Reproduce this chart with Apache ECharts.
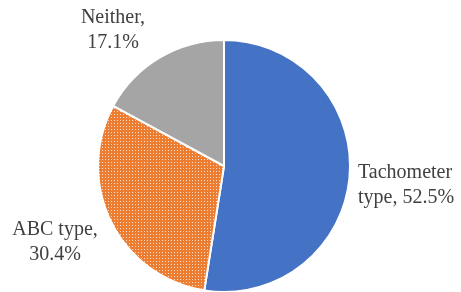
<!DOCTYPE html>
<html>
<head>
<meta charset="utf-8">
<script src="https://cdn.jsdelivr.net/npm/echarts@6/dist/echarts.min.js"></script>
<style>
html, body { margin: 0; padding: 0; background: #fff; }
#container { width: 461px; height: 292px; }
</style>
</head>
<body>
<div id="container"></div>
<script>
var names = ["Tachometer type", "ABC type", "Neither"];
var values = [52.5, 30.4, 17.1];
var colors = ["#4472C4", "#ED7D31", "#A5A5A5"];
var labelText = ["Tachometer\ntype, 52.5%", "ABC type,\n30.4%", "Neither,\n17.1%"];

// small dotted tile for the orange slice
var tile = document.createElement("canvas");
tile.width = 3;
tile.height = 3;
var ctx = tile.getContext("2d");
ctx.fillStyle = "#ED7D31";
ctx.fillRect(0, 0, 3, 3);
ctx.fillStyle = "rgba(255,255,255,0.75)";
ctx.fillRect(0, 0, 1, 1);

// where each label sits (x, y of text block, alignment)
var labelPos = [
  { x: 358, y: 185, align: "left" },
  { x: 55, y: 242, align: "center" },
  { x: 113, y: 30, align: "center" }
];

var dom = document.getElementById("container");
var myChart = echarts.init(dom);

var pieData = [];
for (var i = 0; i < names.length; i++) {
  pieData.push({
    name: names[i],
    value: values[i],
    itemStyle: {
      color: i == 1 ? { image: tile, repeat: "repeat" } : colors[i]
    },
    label: { formatter: labelText[i] }
  });
}

var option = {
  animation: false,
  series: [
    {
      type: "pie",
      center: [224, 166],
      radius: 126,
      startAngle: 90,
      clockwise: true,
      data: pieData,
      itemStyle: {
        borderColor: "#fff",
        borderWidth: 2
      },
      label: {
        show: true,
        position: "outside",
        overflow: "none",
        fontFamily: "Liberation Serif",
        fontSize: 20,
        lineHeight: 25,
        color: "#404040"
      },
      labelLine: { show: false },
      labelLayout: function (params) {
        var p = labelPos[params.dataIndex];
        return {
          x: p.x,
          y: p.y,
          align: p.align,
          verticalAlign: "middle"
        };
      }
    }
  ]
};

myChart.setOption(option);
</script>
</body>
</html>
